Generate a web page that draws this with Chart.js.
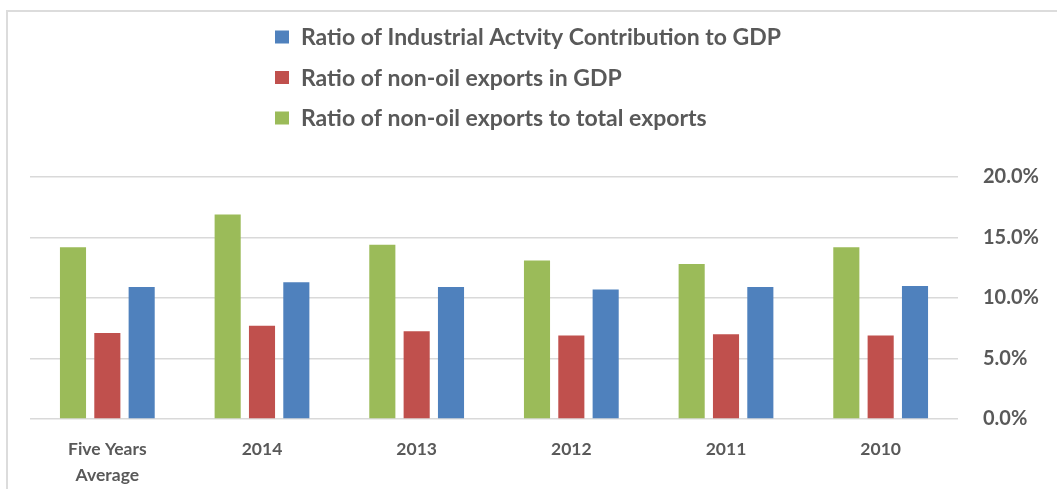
<!DOCTYPE html>
<html>
<head>
<meta charset="utf-8">
<script src="https://cdn.jsdelivr.net/npm/chart.js@4.4.1/dist/chart.umd.min.js"></script>
<style>
  html, body { margin: 0; padding: 0; background: #ffffff; overflow: hidden; }
  #wrap { position: relative; width: 1057px; height: 489px; }
  #frame { position: absolute; left: 6px; top: 10px; width: 1200px; height: 600px;
           border-left: 2px solid #dcdcdc; border-top: 2px solid #dcdcdc; }
  canvas { position: absolute; left: 0; top: 0; }
</style>
</head>
<body>
<div id="wrap">
  <div id="frame"></div>
  <canvas id="chart" width="1057" height="489"></canvas>
</div>
<script>
// Categories along the horizontal axis
const categories = [['Five Years', 'Average'], '2014', '2013', '2012', '2011', '2010'];

// Series values, in percent
const nonOilToTotalExports = [14.2, 16.9, 14.4, 13.1, 12.8, 14.2];
const nonOilExportsInGdp   = [7.1, 7.7, 7.25, 6.9, 7.0, 6.9];
const industrialToGdp      = [10.9, 11.3, 10.9, 10.7, 10.9, 11.0];

// Series names
const seriesNames = [
  'Ratio of non-oil exports to total exports',
  'Ratio of non-oil exports in GDP',
  'Ratio of Industrial Actvity Contribution to GDP'
];

// Value axis ticks
const yTicks = [0, 5, 10, 15, 20];

const colors = ['#9BBB59', '#C0504D', '#4F81BD'];
const textColor = '#595959';
const fontFamily = 'Lato, "Open Sans", "DejaVu Sans", sans-serif';

// Vertical legend listed above the plot, last series first
const stackedLegend = {
  id: 'stackedLegend',
  afterDraw(chart) {
    const ctx = chart.ctx;
    const ds = chart.data.datasets;
    ctx.save();
    ctx.font = 'bold 23px ' + fontFamily;
    ctx.textBaseline = 'middle';
    ctx.textAlign = 'left';
    const boxX = 275, textX = 301, firstY = 37, step = 40.5;
    for (let i = ds.length - 1, row = 0; i >= 0; i--, row++) {
      const y = firstY + row * step;
      ctx.fillStyle = ds[i].backgroundColor;
      ctx.fillRect(boxX, y - 6.5, 14, 13);
      ctx.fillStyle = textColor;
      ctx.fillText(ds[i].label, textX, y + 1);
    }
    ctx.restore();
  }
};

new Chart(document.getElementById('chart'), {
  type: 'bar',
  data: {
    labels: categories,
    datasets: [
      { label: seriesNames[0], data: nonOilToTotalExports, backgroundColor: colors[0] },
      { label: seriesNames[1], data: nonOilExportsInGdp,   backgroundColor: colors[1] },
      { label: seriesNames[2], data: industrialToGdp,      backgroundColor: colors[2] }
    ]
  },
  options: {
    responsive: false,
    animation: false,
    events: [],
    datasets: { bar: { categoryPercentage: 0.666, barPercentage: 0.76 } },
    layout: { padding: { top: 177, left: 30, right: 0, bottom: 0 } },
    plugins: { legend: { display: false }, tooltip: { enabled: false } },
    scales: {
      x: {
        grid: { display: false },
        border: { display: false },
        ticks: {
          color: textColor,
          font: { family: fontFamily, size: 17.5, weight: 'bold', lineHeight: 1.45 },
          padding: 10,
          maxRotation: 0,
          autoSkip: false
        },
        afterFit(s) { s.height = 70; }
      },
      y: {
        position: 'right',
        min: yTicks[0],
        max: yTicks[yTicks.length - 1],
        afterBuildTicks(s) { s.ticks = yTicks.map(v => ({ value: v })); },
        grid: { color: '#d9d9d9', lineWidth: 1.5, drawTicks: false },
        border: { display: false },
        ticks: {
          color: textColor,
          font: { family: fontFamily, size: 20, weight: 'bold' },
          padding: 25,
          callback: v => v.toFixed(1) + '%'
        },
        afterFit(s) { s.width = 99; }
      }
    }
  },
  plugins: [stackedLegend]
});
</script>
</body>
</html>
